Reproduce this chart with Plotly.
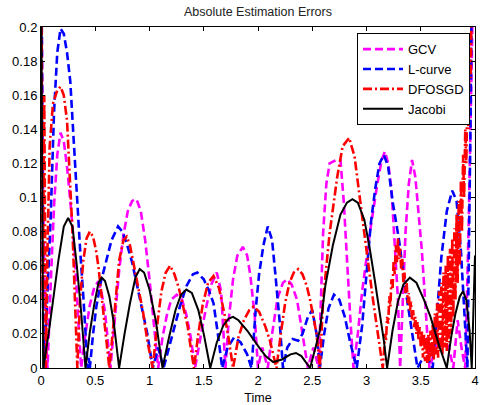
import plotly.graph_objects as go

# ---- data ----
gcv_points = [
    (0.00, 0.25), (0.02, 0.10), (0.04, 0.02), (0.06, 0), (0.09, 0.05), (0.12, 0.095), (0.15, 0.125),
    (0.18, 0.138), (0.21, 0.133), (0.24, 0.118), (0.27, 0.098), (0.31, 0.068), (0.34, 0.032), (0.37, 0),
    (0.41, 0.02), (0.45, 0.037), (0.49, 0.047), (0.52, 0.05), (0.55, 0.047), (0.59, 0.033), (0.64, 0),
    (0.68, 0.03), (0.72, 0.057), (0.76, 0.078), (0.80, 0.092), (0.84, 0.098), (0.88, 0.099), (0.92, 0.092),
    (0.96, 0.075), (1.00, 0.052), (1.04, 0.026), (1.08, 0),
    (1.12, 0.018), (1.16, 0.031), (1.20, 0.040), (1.25, 0.043), (1.30, 0.040), (1.34, 0.031), (1.38, 0.018), (1.42, 0),
    (1.47, 0.018), (1.52, 0.035), (1.57, 0.049), (1.62, 0.056), (1.66, 0.045), (1.70, 0),
    (1.73, 0.028), (1.77, 0.052), (1.81, 0.066), (1.86, 0.071), (1.90, 0.066), (1.93, 0.054), (1.97, 0.030), (2.00, 0),
    (2.04, 0.012), (2.09, 0), (2.13, 0.02), (2.18, 0.041), (2.23, 0.050), (2.27, 0.052), (2.31, 0.049),
    (2.36, 0.040), (2.41, 0.02), (2.46, 0), (2.51, 0.012), (2.56, 0),
    (2.58, 0.04), (2.60, 0.079), (2.63, 0.108), (2.66, 0.12), (2.72, 0.122), (2.76, 0.122), (2.79, 0.098),
    (2.82, 0.06), (2.85, 0.03), (2.88, 0),
    (2.92, 0.02), (2.96, 0.045), (3.03, 0.079), (3.10, 0.108), (3.14, 0.122), (3.17, 0.127), (3.20, 0.12),
    (3.23, 0.105), (3.26, 0.075), (3.29, 0.04), (3.31, 0),
    (3.34, 0.05), (3.36, 0.08), (3.39, 0.108), (3.42, 0.122), (3.45, 0.112), (3.48, 0.09), (3.51, 0.069),
    (3.54, 0.04), (3.56, 0.016), (3.58, 0),
    (3.64, 0.012), (3.70, 0.018), (3.76, 0.012), (3.80, 0), (3.84, 0.028), (3.88, 0.01), (3.91, 0),
    (3.94, 0.08), (3.97, 0.18), (4.00, 0.3),
]

lcurve_points = [
    (0.00, 0.3), (0.01, 0.12), (0.02, 0.03), (0.03, 0), (0.06, 0.045), (0.09, 0.09), (0.12, 0.15), (0.15, 0.185),
    (0.18, 0.199), (0.21, 0.196), (0.24, 0.185), (0.27, 0.168), (0.30, 0.135), (0.33, 0.100), (0.36, 0.070),
    (0.39, 0.042), (0.41, 0.02), (0.43, 0),
    (0.44, 0.006), (0.45, 0), (0.48, 0.02), (0.51, 0.036), (0.55, 0.05), (0.60, 0.063), (0.65, 0.075),
    (0.71, 0.083), (0.75, 0.08), (0.79, 0.073), (0.84, 0.062), (0.88, 0.05), (0.93, 0.035), (0.98, 0.02), (1.03, 0),
    (1.08, 0.012), (1.13, 0), (1.18, 0.012), (1.23, 0.024), (1.28, 0.036), (1.34, 0.048), (1.40, 0.055),
    (1.44, 0.056), (1.50, 0.052), (1.55, 0.045), (1.59, 0.038), (1.63, 0.02), (1.67, 0),
    (1.72, 0.012), (1.78, 0.018), (1.84, 0.015), (1.90, 0.008), (1.94, 0),
    (1.98, 0.035), (2.01, 0.055), (2.05, 0.072), (2.09, 0.083), (2.13, 0.075), (2.16, 0.055), (2.20, 0.027), (2.23, 0),
    (2.27, 0.012), (2.32, 0.017), (2.37, 0.016), (2.41, 0.02), (2.46, 0.03), (2.50, 0.034), (2.54, 0.02), (2.57, 0),
    (2.61, 0.02), (2.65, 0.035), (2.70, 0.043), (2.75, 0.04), (2.80, 0.03), (2.85, 0.015), (2.91, 0),
    (2.96, 0.025), (3.00, 0.055), (3.04, 0.085), (3.08, 0.105), (3.12, 0.12), (3.16, 0.125), (3.20, 0.118),
    (3.24, 0.098), (3.30, 0.075), (3.35, 0.05), (3.41, 0.025), (3.47, 0),
    (3.52, 0.006), (3.57, 0.005), (3.61, 0), (3.65, 0.035), (3.69, 0.065), (3.74, 0.092), (3.79, 0.104),
    (3.83, 0.098), (3.87, 0.069), (3.90, 0.035), (3.93, 0), (3.96, 0.15), (3.98, 0.3),
]

dfosgd_points = [
    (0.00, 0.3), (0.015, 0.04), (0.03, 0.16), (0.045, 0), (0.06, 0.07), (0.08, 0.13), (0.11, 0.155),
    (0.15, 0.163), (0.18, 0.165), (0.21, 0.16), (0.24, 0.145), (0.27, 0.11), (0.29, 0.08), (0.31, 0.045), (0.335, 0),
    (0.36, 0.04), (0.39, 0.063), (0.42, 0.076), (0.45, 0.08), (0.48, 0.077), (0.51, 0.068), (0.53, 0.059),
    (0.57, 0.036), (0.60, 0.018), (0.63, 0),
    (0.66, 0.02), (0.69, 0.044), (0.72, 0.063), (0.76, 0.075), (0.79, 0.077), (0.82, 0.072), (0.86, 0.06),
    (0.90, 0.046), (0.94, 0.033), (0.98, 0.016), (1.03, 0),
    (1.07, 0.025), (1.11, 0.045), (1.15, 0.056), (1.19, 0.06), (1.23, 0.055), (1.27, 0.047), (1.31, 0.036),
    (1.35, 0.025), (1.38, 0.012), (1.41, 0),
    (1.45, 0.02), (1.49, 0.037), (1.54, 0.05), (1.59, 0.054), (1.64, 0.047), (1.69, 0.032), (1.73, 0.017), (1.77, 0),
    (1.82, 0.018), (1.87, 0.028), (1.92, 0.034), (1.96, 0.036), (2.01, 0.033), (2.07, 0.024), (2.11, 0.016), (2.17, 0),
    (2.21, 0.02), (2.25, 0.038), (2.29, 0.05), (2.33, 0.056), (2.37, 0.058), (2.41, 0.055), (2.45, 0.048),
    (2.48, 0.04), (2.51, 0.03), (2.54, 0.02), (2.57, 0),
    (2.60, 0.04), (2.66, 0.079), (2.73, 0.112), (2.78, 0.13), (2.84, 0.135), (2.89, 0.124), (2.94, 0.098),
    (3.00, 0.069), (3.06, 0.04), (3.11, 0.018), (3.15, 0),
    (3.16, 0.008), (3.17, 0.02), (3.18, 0.016), (3.19, 0.03), (3.20, 0.026), (3.21, 0.042), (3.22, 0.036),
    (3.23, 0.052), (3.24, 0.046), (3.25, 0.063), (3.26, 0.055), (3.27, 0.072), (3.28, 0.062), (3.29, 0.076),
    (3.30, 0.064), (3.31, 0.07), (3.32, 0.058), (3.33, 0.064), (3.34, 0.05), (3.35, 0.056), (3.36, 0.044),
    (3.37, 0.05), (3.38, 0.038), (3.39, 0.044), (3.40, 0.033), (3.41, 0.039), (3.42, 0.028), (3.43, 0.034),
    (3.44, 0.024), (3.45, 0.03), (3.46, 0.02), (3.47, 0.027), (3.48, 0.016), (3.49, 0.024), (3.50, 0.012),
    (3.51, 0.022), (3.52, 0.006), (3.53, 0.02), (3.54, 0.004), (3.55, 0.018), (3.56, 0.003), (3.57, 0.02),
    (3.58, 0.004), (3.59, 0.022), (3.60, 0.006), (3.61, 0.026), (3.62, 0.005), (3.63, 0.032), (3.64, 0.008),
    (3.65, 0.038), (3.66, 0.006), (3.67, 0.045), (3.68, 0.01), (3.69, 0.05), (3.70, 0.008), (3.71, 0.056),
    (3.72, 0.012), (3.73, 0.06), (3.74, 0.01), (3.75, 0.066), (3.76, 0.015), (3.77, 0.07), (3.78, 0.02),
    (3.79, 0.076), (3.80, 0.03), (3.81, 0.082), (3.82, 0.04), (3.83, 0.09), (3.84, 0.05), (3.85, 0.098),
    (3.86, 0.06), (3.87, 0.11), (3.88, 0.08), (3.89, 0.125), (3.90, 0.1), (3.91, 0.14), (3.92, 0.12),
    (3.93, 0.16), (3.94, 0.14), (3.95, 0.19), (3.96, 0.17), (3.97, 0.22), (3.98, 0.2), (3.99, 0.26), (4.00, 0.3),
]

jacobi_points = [
    (0.00, 0.25), (0.02, 0), (0.07, 0.020), (0.12, 0.045), (0.16, 0.063), (0.21, 0.083), (0.25, 0.088),
    (0.29, 0.083), (0.33, 0.060), (0.37, 0.033), (0.39, 0.016), (0.41, 0),
    (0.45, 0.021), (0.49, 0.037), (0.53, 0.050), (0.56, 0.053), (0.59, 0.051), (0.63, 0.042), (0.67, 0.027), (0.72, 0),
    (0.77, 0.020), (0.82, 0.038), (0.87, 0.053), (0.91, 0.058), (0.95, 0.056), (1.00, 0.046), (1.06, 0.027), (1.12, 0),
    (1.18, 0.018), (1.24, 0.034), (1.29, 0.043), (1.34, 0.046), (1.39, 0.044), (1.45, 0.034), (1.50, 0.020), (1.56, 0),
    (1.62, 0.015), (1.68, 0.025), (1.73, 0.029), (1.77, 0.030), (1.82, 0.028), (1.90, 0.022), (2.00, 0.013),
    (2.07, 0.007), (2.14, 0.0035), (2.22, 0.005), (2.30, 0.008), (2.35, 0.0088), (2.40, 0.007), (2.45, 0.003), (2.48, 0),
    (2.53, 0.012), (2.57, 0.022), (2.62, 0.048), (2.69, 0.072), (2.76, 0.090), (2.82, 0.097), (2.87, 0.099),
    (2.92, 0.097), (2.98, 0.087), (3.03, 0.070), (3.08, 0.050), (3.12, 0.034), (3.16, 0.016), (3.19, 0),
    (3.24, 0.022), (3.29, 0.039), (3.34, 0.049), (3.40, 0.053), (3.46, 0.050), (3.53, 0.040), (3.59, 0.030),
    (3.67, 0.013), (3.74, 0),
    (3.78, 0.018), (3.82, 0.032), (3.86, 0.042), (3.89, 0.045), (3.92, 0.040), (3.95, 0.022), (3.97, 0), (4.00, 0.066),
]

series_names = ["GCV", "L-curve", "DFOSGD", "Jacobi"]
x_tick_vals = [0, 0.5, 1, 1.5, 2, 2.5, 3, 3.5, 4]
x_tick_text = ["0", "0.5", "1", "1.5", "2", "2.5", "3", "3.5", "4"]
y_tick_vals = [0, 0.02, 0.04, 0.06, 0.08, 0.1, 0.12, 0.14, 0.16, 0.18, 0.2]
y_tick_text = ["0", "0.02", "0.04", "0.06", "0.08", "0.1", "0.12", "0.14", "0.16", "0.18", "0.2"]

styles = [
    dict(color="#FF00FF", width=2.6, dash="8px,4px"),
    dict(color="#0000FF", width=2.6, dash="8px,4px"),
    dict(color="#FF0000", width=2.6, dash="9px,3px,2px,3px"),
    dict(color="#000000", width=2, dash="solid"),
]

fig = go.Figure()
for name, pts, st in zip(series_names, [gcv_points, lcurve_points, dfosgd_points, jacobi_points], styles):
    fig.add_trace(go.Scatter(
        x=[p[0] for p in pts], y=[p[1] for p in pts], mode="lines", name=name, line=st,
    ))

font_family = "Arial, Liberation Sans, sans-serif"
fig.update_layout(
    width=481, height=405,
    margin=dict(l=41, r=6, t=27, b=37, autoexpand=False),
    paper_bgcolor="white", plot_bgcolor="white",
    font=dict(family=font_family, size=13, color="#000000"),
    title=dict(text="Absolute Estimation Errors", x=0.5, xref="paper", xanchor="center",
               y=1 - 12 / 405, yref="container", yanchor="middle",
               font=dict(size=12.5, color="#222222")),
    legend=dict(x=0.9885, y=0.982, xanchor="right", yanchor="top",
                bgcolor="white", bordercolor="black", borderwidth=1,
                font=dict(size=13), itemwidth=40, tracegroupgap=0),
    showlegend=True,
)
fig.update_xaxes(range=[0, 4], tickvals=x_tick_vals, ticktext=x_tick_text,
                 ticks="inside", ticklen=4, tickcolor="black",
                 showline=True, linecolor="black", linewidth=1, mirror="ticks",
                 showgrid=False, zeroline=False,
                 title=dict(text="Time", font=dict(size=12.5), standoff=6))
fig.update_yaxes(range=[0, 0.2], tickvals=y_tick_vals, ticktext=y_tick_text,
                 ticks="inside", ticklen=4, tickcolor="black",
                 showline=True, linecolor="black", linewidth=1, mirror="ticks",
                 showgrid=False, zeroline=False)

fig.write_html("out.html", config={"displayModeBar": False},
               post_script="document.body.style.margin='0';")
